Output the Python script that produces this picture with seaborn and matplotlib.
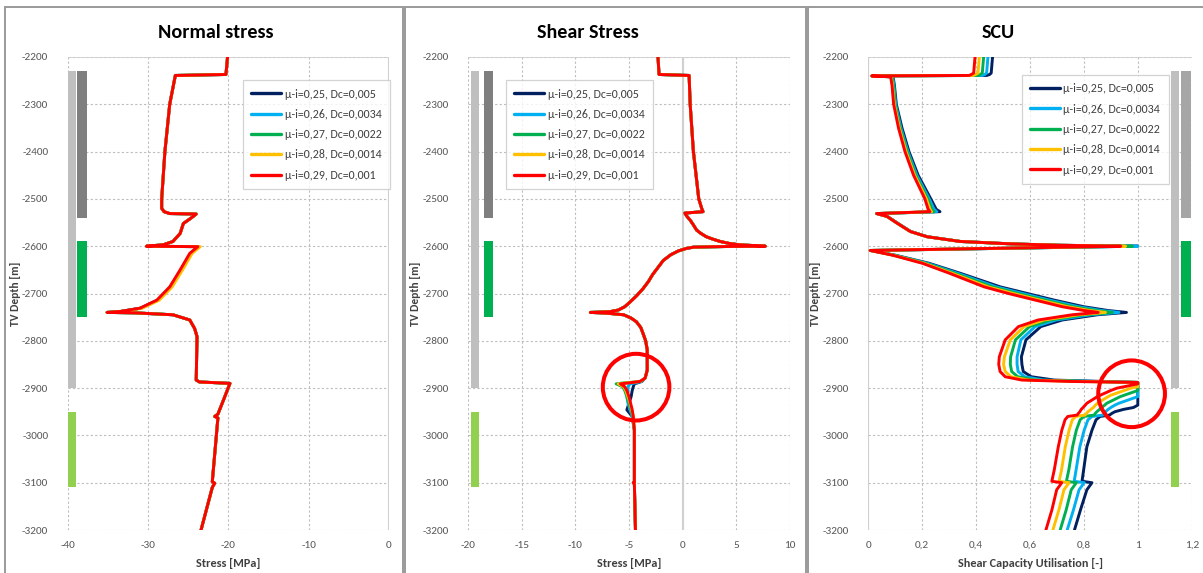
import matplotlib
matplotlib.use("Agg")
import matplotlib.pyplot as plt
import pandas as pd
import seaborn as sns
from matplotlib import font_manager
from matplotlib.patches import Ellipse, Rectangle

# ---------------- data ----------------
series_labels = ["μ-i=0,25, Dc=0,005", "μ-i=0,26, Dc=0,0034", "μ-i=0,27, Dc=0,0022",
                 "μ-i=0,28, Dc=0,0014", "μ-i=0,29, Dc=0,001"]
series_colors = ["#002060", "#00B0F0", "#00B050", "#FFC000", "#FF0000"]

depth_ticks = [-2200, -2300, -2400, -2500, -2600, -2700, -2800, -2900, -3000, -3100, -3200]
depth_tick_labels = ["-2200", "-2300", "-2400", "-2500", "-2600", "-2700", "-2800",
                     "-2900", "-3000", "-3100", "-3200"]
ns_ticks = [-40, -30, -20, -10, 0]
ns_tick_labels = ["-40", "-30", "-20", "-10", "0"]
sh_ticks = [-20, -15, -10, -5, 0, 5, 10]
sh_tick_labels = ["-20", "-15", "-10", "-5", "0", "5", "10"]
scu_ticks = [0, 0.2, 0.4, 0.6, 0.8, 1.0, 1.2]
scu_tick_labels = ["0", "0,2", "0,4", "0,6", "0,8", "1", "1,2"]

# Normal stress [MPa]
ns_depth = [-2200, -2237, -2239, -2300, -2400, -2500, -2520, -2527, -2531, -2532, -2540, -2552,
            -2573, -2590, -2597, -2600, -2601, -2615, -2650, -2686, -2714, -2731, -2738, -2740,
            -2741, -2745, -2756, -2774, -2791, -2883, -2887, -2890, -2925, -2955, -2960, -2963,
            -3098, -3101, -3110, -3200]
ns_mu25 = [-20.1, -20.3, -26.6, -27.3, -27.9, -28.3, -28.3, -28.0, -27.3, -24.0, -24.6, -25.6,
           -26.0, -26.9, -28.1, -30.2, -23.7, -24.7, -25.9, -27.2, -28.8, -30.9, -33.4, -35.1,
           -31.5, -26.9, -24.8, -24.2, -23.9, -24.0, -23.6, -19.8, -20.6, -21.3, -21.7, -21.3,
           -22.0, -21.7, -22.0, -23.4]
ns_mu26 = [-20.1, -20.3, -26.6, -27.3, -27.9, -28.3, -28.3, -28.0, -27.3, -24.0, -24.6, -25.6,
           -26.0, -26.9, -28.1, -30.2, -23.7, -24.7, -25.9, -27.2, -28.8, -30.9, -33.4, -35.1,
           -31.5, -26.9, -24.8, -24.2, -23.9, -24.0, -23.6, -19.8, -20.6, -21.3, -21.7, -21.3,
           -22.0, -21.7, -22.0, -23.4]
ns_mu27 = [-20.1, -20.3, -26.6, -27.3, -27.9, -28.3, -28.3, -28.0, -27.3, -24.0, -24.6, -25.6,
           -26.0, -26.9, -28.1, -30.2, -23.7, -24.7, -25.9, -27.2, -28.8, -30.9, -33.4, -35.1,
           -31.5, -26.9, -24.8, -24.2, -23.9, -24.0, -23.6, -19.8, -20.6, -21.3, -21.7, -21.3,
           -22.0, -21.7, -22.0, -23.4]
ns_mu28 = [-20.1, -20.3, -26.6, -27.3, -27.9, -28.3, -28.3, -28.0, -27.3, -24.0, -24.6, -25.6,
           -26.0, -26.9, -28.1, -30.2, -23.5, -24.5, -25.7, -27.0, -28.6, -30.7, -33.3, -35.1,
           -31.5, -26.9, -24.8, -24.2, -23.9, -24.0, -23.6, -19.8, -20.6, -21.3, -21.7, -21.3,
           -22.0, -21.7, -22.0, -23.4]
ns_mu29 = [-20.1, -20.3, -26.6, -27.3, -27.9, -28.3, -28.3, -28.0, -27.3, -24.0, -24.6, -25.6,
           -26.0, -26.9, -28.1, -30.2, -23.8, -24.8, -26.0, -27.3, -28.9, -31.0, -33.5, -35.1,
           -31.5, -26.9, -24.8, -24.2, -23.9, -24.0, -23.6, -19.8, -20.6, -21.3, -21.7, -21.3,
           -22.0, -21.7, -22.0, -23.4]

# Shear stress [MPa]
sh_depth = [-2200, -2237, -2239, -2300, -2400, -2500, -2522, -2527, -2530, -2537, -2545, -2555,
            -2566, -2573, -2580, -2585, -2590, -2594, -2597, -2600, -2600.5, -2602, -2605, -2610,
            -2618, -2630, -2645, -2660, -2675, -2690, -2705, -2718, -2728, -2735, -2738.5, -2740,
            -2741.5, -2745, -2752, -2760, -2772, -2784, -2800, -2819, -2862, -2879,
            -2886, -2889, -2891, -2897, -2905, -2918, -2932, -2946, -2960, -2989, -3050, -3098,
            -3100, -3102, -3150, -3200]
sh_mu25 = [-2.3, -2.2, 0.6, 0.7, 1.0, 1.5, 1.8, 1.9, 0.2, 0.4, 0.7, 1.0,
           1.3, 1.7, 2.2, 2.8, 3.5, 4.3, 5.3, 7.7, 4.5, 1.0, 0.3, -0.4,
           -1.1, -1.8, -2.3, -2.8, -3.2, -3.7, -4.3, -4.9, -5.4, -6.0, -6.8, -8.6,
           -7.1, -5.5, -4.8, -4.3, -3.9, -3.7, -3.45, -3.3, -3.3, -3.5,
           -3.8, -4.2, -4.5, -4.6, -4.7, -4.8, -5.0, -5.2, -4.7, -4.5, -4.5, -4.5,
           -4.6, -4.5, -4.45, -4.4]
sh_mu26 = [-2.3, -2.2, 0.6, 0.7, 1.0, 1.5, 1.8, 1.9, 0.2, 0.4, 0.7, 1.0,
           1.3, 1.7, 2.2, 2.8, 3.5, 4.3, 5.3, 7.7, 4.5, 1.0, 0.3, -0.4,
           -1.1, -1.8, -2.3, -2.8, -3.2, -3.7, -4.3, -4.9, -5.4, -6.0, -6.8, -8.6,
           -7.1, -5.5, -4.8, -4.3, -3.9, -3.7, -3.45, -3.3, -3.3, -3.5,
           -3.85, -4.4, -4.9, -5.1, -5.1, -5.2, -5.1, -4.9, -4.7, -4.5, -4.5, -4.5,
           -4.6, -4.5, -4.45, -4.4]
sh_mu27 = [-2.3, -2.2, 0.6, 0.7, 1.0, 1.5, 1.8, 1.9, 0.2, 0.4, 0.7, 1.0,
           1.3, 1.7, 2.2, 2.8, 3.5, 4.3, 5.3, 7.7, 4.5, 1.0, 0.3, -0.4,
           -1.1, -1.8, -2.3, -2.8, -3.2, -3.7, -4.3, -4.9, -5.4, -6.0, -6.8, -8.6,
           -7.1, -5.5, -4.8, -4.3, -3.9, -3.7, -3.45, -3.3, -3.3, -3.5,
           -3.9, -5.5, -6.2, -5.6, -5.4, -5.2, -5.0, -4.8, -4.65, -4.5, -4.5, -4.5,
           -4.6, -4.5, -4.45, -4.4]
sh_mu28 = [-2.3, -2.2, 0.6, 0.7, 1.0, 1.5, 1.8, 1.9, 0.2, 0.4, 0.7, 1.0,
           1.3, 1.7, 2.2, 2.8, 3.5, 4.3, 5.3, 7.7, 4.5, 1.0, 0.3, -0.4,
           -1.1, -1.8, -2.3, -2.8, -3.2, -3.7, -4.3, -4.9, -5.4, -6.0, -6.8, -8.6,
           -7.1, -5.5, -4.8, -4.3, -3.9, -3.7, -3.45, -3.3, -3.3, -3.5,
           -3.95, -5.2, -6.0, -5.5, -5.3, -5.1, -4.9, -4.75, -4.6, -4.5, -4.5, -4.5,
           -4.6, -4.5, -4.45, -4.4]
sh_mu29 = [-2.3, -2.2, 0.6, 0.7, 1.0, 1.5, 1.8, 1.9, 0.2, 0.4, 0.7, 1.0,
           1.3, 1.7, 2.2, 2.8, 3.5, 4.3, 5.3, 7.7, 4.5, 1.0, 0.3, -0.4,
           -1.1, -1.8, -2.3, -2.8, -3.2, -3.7, -4.3, -4.9, -5.4, -6.0, -6.8, -8.6,
           -7.1, -5.5, -4.8, -4.3, -3.9, -3.7, -3.45, -3.3, -3.3, -3.5,
           -4.0, -5.0, -5.8, -5.4, -5.2, -5.0, -4.85, -4.7, -4.6, -4.5, -4.5, -4.5,
           -4.6, -4.5, -4.45, -4.4]

# Shear capacity utilisation [-]
scu_depth = [-2200, -2234, -2237, -2239, -2240, -2242, -2260, -2300, -2350, -2400, -2450, -2500,
             -2522, -2527, -2531, -2537, -2551, -2569, -2580, -2590, -2595, -2598, -2600, -2609,
             -2619, -2636, -2657, -2686, -2700, -2714, -2728, -2736, -2740, -2745, -2756, -2770,
             -2798, -2834, -2850, -2865, -2876, -2883, -2886, -2888, -2891, -2897, -2900, -2905,
             -2915, -2918, -2932, -2936, -2941, -2945, -2950, -2953, -2957, -2960, -2967, -2989,
             -3024, -3073, -3097, -3100, -3115, -3158, -3200]
scu_mu25 = [0.461, 0.456, 0.45, 0.44, 0.013, 0.092, 0.097, 0.104, 0.125, 0.151, 0.185, 0.232,
            0.252, 0.266, 0.031, 0.071, 0.108, 0.158, 0.22, 0.343, 0.528, 0.71, 1.0, 0.007,
            0.10, 0.225, 0.34, 0.49, 0.59, 0.69, 0.80, 0.89, 0.958, 0.85, 0.72, 0.64,
            0.585, 0.568, 0.570, 0.575, 0.605, 0.69, 0.877, 1.0, 1.0, 1.0, 1.0, 1.0,
            1.0, 1.0, 1.0, 1.0, 0.984, 0.947, 0.915, 0.905, 0.895, 0.86, 0.845, 0.830,
            0.811, 0.799, 0.793, 0.830, 0.811, 0.787, 0.765]
scu_mu26 = [0.444, 0.439, 0.432, 0.423, 0.013, 0.09, 0.095, 0.1015, 0.121, 0.147, 0.18, 0.226,
            0.244, 0.254, 0.031, 0.07, 0.107, 0.157, 0.219, 0.342, 0.527, 0.71, 1.0, 0.007,
            0.097, 0.218, 0.33, 0.475, 0.572, 0.672, 0.78, 0.867, 0.93, 0.825, 0.697, 0.619,
            0.566, 0.552, 0.552, 0.556, 0.58, 0.65, 0.845, 1.0, 1.0, 1.0, 1.0, 1.0,
            1.0, 1.0, 0.93, 0.915, 0.9, 0.89, 0.88, 0.875, 0.87, 0.83, 0.815, 0.801,
            0.785, 0.771, 0.764, 0.801, 0.782, 0.761, 0.738]
scu_mu27 = [0.428, 0.423, 0.415, 0.407, 0.013, 0.088, 0.093, 0.099, 0.118, 0.144, 0.176, 0.221,
            0.236, 0.244, 0.031, 0.069, 0.106, 0.156, 0.218, 0.341, 0.526, 0.71, 0.98, 0.007,
            0.095, 0.212, 0.32, 0.46, 0.555, 0.655, 0.76, 0.845, 0.905, 0.80, 0.675, 0.598,
            0.546, 0.528, 0.527, 0.532, 0.555, 0.62, 0.815, 1.0, 1.0, 1.0, 1.0, 1.0,
            0.95, 0.935, 0.885, 0.877, 0.866, 0.858, 0.848, 0.843, 0.838, 0.80, 0.786, 0.772,
            0.758, 0.744, 0.735, 0.772, 0.753, 0.734, 0.712]
scu_mu28 = [0.412, 0.407, 0.398, 0.39, 0.013, 0.085, 0.09, 0.0965, 0.115, 0.140, 0.172, 0.2155,
            0.229, 0.235, 0.031, 0.069, 0.106, 0.156, 0.218, 0.341, 0.526, 0.71, 0.955, 0.007,
            0.092, 0.206, 0.31, 0.445, 0.538, 0.637, 0.74, 0.822, 0.88, 0.78, 0.652, 0.578,
            0.527, 0.505, 0.502, 0.508, 0.53, 0.595, 0.785, 1.0, 1.0, 1.0, 0.975, 0.95,
            0.9, 0.89, 0.85, 0.843, 0.835, 0.826, 0.815, 0.81, 0.805, 0.77, 0.757, 0.745,
            0.731, 0.717, 0.708, 0.745, 0.726, 0.707, 0.685]
scu_mu29 = [0.396, 0.391, 0.382, 0.374, 0.013, 0.083, 0.088, 0.094, 0.112, 0.136, 0.168, 0.21,
            0.222, 0.229, 0.031, 0.069, 0.106, 0.156, 0.218, 0.341, 0.526, 0.71, 0.937, 0.007,
            0.09, 0.2, 0.3, 0.43, 0.52, 0.62, 0.72, 0.80, 0.853, 0.756, 0.63, 0.557,
            0.508, 0.486, 0.484, 0.489, 0.508, 0.57, 0.756, 1.0, 1.0, 0.95, 0.923, 0.90,
            0.861, 0.85, 0.811, 0.805, 0.797, 0.79, 0.785, 0.78, 0.775, 0.74, 0.73, 0.718,
            0.705, 0.69, 0.681, 0.718, 0.699, 0.681, 0.659]

# Formation intervals (depth ranges of the coloured bars)
zone_top = [-2230, -2230, -2590, -2950]
zone_bottom = [-2900, -2540, -2750, -3110]
zone_column = [0, 1, 1, 0]

# ---------------- style ----------------
sns.set_theme(style="white")
avail = {f.name for f in font_manager.fontManager.ttflist}
fams = [f for f in ["Carlito", "Liberation Sans Narrow", "Lato", "DejaVu Sans"] if f in avail]
plt.rcParams["font.family"] = fams
plt.rcParams["axes.unicode_minus"] = False

W, H = 1203, 573
fig = plt.figure(figsize=(W / 100, H / 100), dpi=100)
fig.patch.set_facecolor("white")

ax_bottom = (573 - 530) / H
ax_height = 473 / H
axes_px = [(67.7, 321.3), (468.0, 322.0), (868.3, 323.4)]
axs = [fig.add_axes([l / W, ax_bottom, w / W, ax_height]) for l, w in axes_px]

panels = [
    dict(depth=ns_depth, vals=[ns_mu25, ns_mu26, ns_mu27, ns_mu28, ns_mu29],
         xlim=(-40, 0), ticks=ns_ticks, labels=ns_tick_labels, xlabel="Stress [MPa]",
         title="Normal stress", title_x=216,
         cols=[(-39.44, 1.07), (-38.22, 1.15)], dark="#7F7F7F",
         legend=(0.546, 0.951), circle=None),
    dict(depth=sh_depth, vals=[sh_mu25, sh_mu26, sh_mu27, sh_mu28, sh_mu29],
         xlim=(-20, 10), ticks=sh_ticks, labels=sh_tick_labels, xlabel="Stress [MPa]",
         title="Shear Stress", title_x=588,
         cols=[(-19.35, 0.80), (-18.07, 0.87)], dark="#7F7F7F",
         legend=(0.118, 0.951), circle=(-4.34, -2898, 6.2, 141)),
    dict(depth=scu_depth, vals=[scu_mu25, scu_mu26, scu_mu27, scu_mu28, scu_mu29],
         xlim=(0, 1.2), ticks=scu_ticks, labels=scu_tick_labels,
         xlabel="Shear Capacity Utilisation [-]",
         title="SCU", title_x=998,
         cols=[(1.1377, 0.032), (1.1785, 0.035)], dark="#A6A6A6",
         legend=(0.474, 0.962), circle=(0.977, -2912, 0.2475, 141)),
]

zone_colors_base = ["#BFBFBF", None, "#00B050", "#92D050"]

for ax, p in zip(axs, panels):
    ax.set_facecolor("white")
    for s in ax.spines.values():
        s.set_visible(False)
    ax.set_xlim(*p["xlim"])
    ax.set_ylim(-3200, -2200)
    ax.set_xticks(p["ticks"])
    ax.set_xticklabels(p["labels"])
    ax.set_yticks(depth_ticks)
    ax.set_yticklabels(depth_tick_labels)
    ax.grid(True, linestyle=(0, (2, 2)), color="#BDBDBD", linewidth=0.8)
    ax.set_axisbelow(True)
    ax.axhline(-2200, color="#D0D0D0", lw=1.2, zorder=1)
    ax.axvline(0, color="#D0D0D0", lw=1.5, zorder=1)
    ax.tick_params(axis="both", length=0, labelsize=8.1, labelcolor="#595959")
    ax.tick_params(axis="y", pad=14)
    ax.tick_params(axis="x", pad=8)
    ax.set_xlabel(p["xlabel"], fontsize=8.8, fontweight="bold", color="#404040", labelpad=6)
    ax.set_ylabel("TV Depth [m]", fontsize=8.3, fontweight="bold", color="#404040", labelpad=1)

    # formation bars
    for top, bot, col, base in zip(zone_top, zone_bottom, zone_column, zone_colors_base):
        cx, cw = p["cols"][col]
        ax.bar(cx, top - bot, bottom=bot, width=cw, color=base if base else p["dark"],
               linewidth=0, zorder=2)

    # model curves
    frames = []
    for lab, v in zip(series_labels, p["vals"]):
        frames.append(pd.DataFrame({"depth": p["depth"], "value": v, "series": lab}))
    df = pd.concat(frames, ignore_index=True)
    sns.lineplot(data=df, x="value", y="depth", hue="series", hue_order=series_labels,
                 palette=series_colors, sort=False, estimator=None, units="series",
                 linewidth=2.1, ax=ax, zorder=3, legend=True)
    for ln in ax.get_lines():
        ln.set_solid_joinstyle("round")
        ln.set_solid_capstyle("round")

    handles, labels = ax.get_legend_handles_labels()
    ax.get_legend().remove()
    leg = ax.legend(handles, labels, loc="upper left", bbox_to_anchor=p["legend"],
                    borderaxespad=0, frameon=True, fancybox=False, fontsize=8.6,
                    labelspacing=0.78, borderpad=0.7, handlelength=2.5, handletextpad=0.3,
                    labelcolor="#404040")
    leg.get_frame().set_edgecolor("#C8C8C8")
    leg.get_frame().set_linewidth(0.9)
    for h in leg.legend_handles:
        h.set_linewidth(2.4)
    leg.set_zorder(6)

    if p["circle"] is not None:
        cx, cy, cw, ch = p["circle"]
        ax.add_patch(Ellipse((cx, cy), cw, ch, fill=False, edgecolor="#FF0000", lw=2.9,
                             zorder=5))

    fig.text(p["title_x"] / W, 1 - 33 / H, p["title"], ha="center", va="center",
             fontsize=14.5, fontweight="bold", color="black")

# chart frames
for x0, x1 in [(5, 403), (405, 806), (808, 1215)]:
    fig.add_artist(Rectangle((x0 / W, -0.05), (x1 - x0) / W, 1.05 - 7 / H,
                             transform=fig.transFigure, fill=False, edgecolor="#9A9A9A",
                             lw=1.4))

fig.savefig("out.png", dpi=100, facecolor="white")
